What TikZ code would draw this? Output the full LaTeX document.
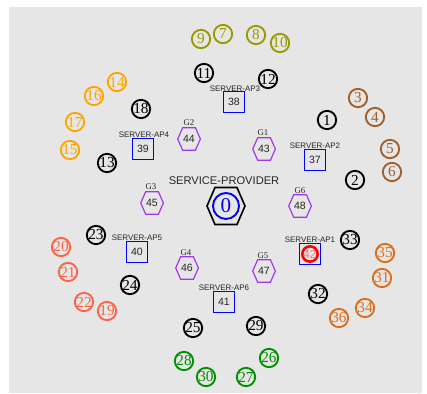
\documentclass[tikz,border=0pt]{standalone}
\usepackage{fontspec}
\setmainfont{Liberation Serif}
\setsansfont{Liberation Sans}
\definecolor{olv}{HTML}{999900}
\definecolor{org}{HTML}{FFA500}
\definecolor{brn}{HTML}{A0602D}
\definecolor{tom}{HTML}{FF6347}
\definecolor{chc}{HTML}{DD6E1E}
\definecolor{grn}{HTML}{009000}
\definecolor{prp}{HTML}{A035F0}
\definecolor{bg}{HTML}{E6E6E6}
\tikzset{
  nd/.style={circle,draw=#1,text=#1,minimum size=5.5mm,inner sep=0pt,line width=1.6pt,font=\fontsize{13}{13}\selectfont},
  sv/.style={rectangle,draw=blue,minimum size=6.3mm,inner sep=0pt,line width=1.2pt,text=black!85,font=\sffamily\fontsize{9}{9}\selectfont},
  gp/.style={inner sep=0pt,text=black!85,font=\sffamily\fontsize{9}{9}\selectfont},
  hxl/.style={draw=prp,line width=1pt,line join=miter},
  % server and group captions sit just above their box
  lb/.style={font=\sffamily\fontsize{6.8}{6.8}\selectfont,text=black!85,inner sep=0pt},
  gl/.style={font=\fontsize{7.5}{7.5}\selectfont,text=black!85,inner sep=0pt},
}
\begin{document}
\begin{tikzpicture}[x=0.3mm,y=-0.3mm]
\useasboundingbox (0,0) rectangle (427,394);
\fill[bg] (9,7) rectangle (422,393);
% service provider
\node[font=\sffamily\fontsize{9.5}{9.5}\selectfont,text=black!85,inner sep=0pt] (lsp) at (224,181) {SERVICE-PROVIDER};
\coordinate (sp0) at (226,206);
\draw[line width=1.4pt,line join=miter] (sp0) ++(-19,0) -- ++(8,-18.5) -- ++(22,0) -- ++(8,18.5) -- ++(-8,18.5) -- ++(-22,0) -- cycle;
\node[circle,draw=blue,text=blue,line width=1.6pt,minimum size=7.8mm,inner sep=0pt,font=\fontsize{18}{18}\selectfont] (n0) at (sp0) {0};
% servers
\node[sv] (s37) at (315,160) {37}; \node[lb] (l37) at (315,146) {SERVER-AP2};
\node[sv] (s38) at (234,102) {38}; \node[lb] (l38) at (235,89) {SERVER-AP3};
\node[sv] (s39) at (143,149) {39}; \node[lb] (l39) at (144,135) {SERVER-AP4};
\node[sv] (s40) at (137,252) {40}; \node[lb] (l40) at (137,238) {SERVER-AP5};
\node[sv] (s41) at (224,302) {41}; \node[lb] (l41) at (224,288) {SERVER-AP6};
\node[sv] (s42) at (310,254) {}; \node[lb] (l42) at (310,240) {SERVER-AP1};
\node[circle,draw=red,line width=2.2pt,minimum size=4.6mm,inner sep=0pt,text=red!55!white,font=\sffamily\fontsize{10}{10}\selectfont] (n42) at (s42) {42};
% groups
\node[gp] (h43) at (264,149) {43}; \node[gl] (g1) at (263,133) {G1};
\node[gp] (h44) at (189,139) {44}; \node[gl] (g2) at (189,123) {G2};
\node[gp] (h45) at (152,203) {45}; \node[gl] (g3) at (151,187) {G3};
\node[gp] (h46) at (187,268) {46}; \node[gl] (g4) at (186,253) {G4};
\node[gp] (h47) at (264,271) {47}; \node[gl] (g5) at (263,256) {G5};
\node[gp] (h48) at (300,206) {48}; \node[gl] (g6) at (300,191) {G6};
\foreach \h in {h43,h44,h45,h46,h47,h48}
  \draw[hxl] (\h.center) ++(-11.3,0) -- ++(5,-11.3) -- ++(12.7,0) -- ++(5,11.3) -- ++(-5,11.3) -- ++(-12.7,0) -- cycle;
% clients near each server
\node[nd=black] (c1) at (327,120) {1};  \node[nd=black] (c2) at (355,180) {2};
\node[nd=brn] (c3) at (358,98) {3};     \node[nd=brn] (c4) at (375,117) {4};
\node[nd=brn] (c5) at (390,149) {5};    \node[nd=brn] (c6) at (392,172) {6};
\node[nd=olv] (c7) at (223,34) {7};     \node[nd=olv] (c8) at (256,35) {8};
\node[nd=olv] (c9) at (201,39) {9};     \node[nd=olv] (c10) at (280,43) {10};
\node[nd=black] (c11) at (204,73) {11}; \node[nd=black] (c12) at (268,79) {12};
\node[nd=black] (c13) at (107,163) {13};\node[nd=org] (c14) at (117,82) {14};
\node[nd=org] (c15) at (70,150) {15};   \node[nd=org] (c16) at (94,96) {16};
\node[nd=org] (c17) at (75,122) {17};   \node[nd=black] (c18) at (141,109) {18};
\node[nd=tom] (c19) at (107,311) {19};  \node[nd=tom] (c20) at (61,247) {20};
\node[nd=tom] (c21) at (68,272) {21};   \node[nd=tom] (c22) at (84,302) {22};
\node[nd=black] (c23) at (96,235) {23}; \node[nd=black] (c24) at (130,285) {24};
\node[nd=black] (c25) at (193,328) {25};\node[nd=grn] (c26) at (269,358) {26};
\node[nd=grn] (c27) at (246,377) {27};  \node[nd=grn] (c28) at (184,361) {28};
\node[nd=black] (c29) at (256,326) {29};\node[nd=grn] (c30) at (206,377) {30};
\node[nd=chc] (c31) at (382,278) {31};  \node[nd=black] (c32) at (318,294) {32};
\node[nd=black] (c33) at (350,240) {33};\node[nd=chc] (c34) at (365,308) {34};
\node[nd=chc] (c35) at (385,253) {35};  \node[nd=chc] (c36) at (339,318) {36};
\end{tikzpicture}
\end{document}
